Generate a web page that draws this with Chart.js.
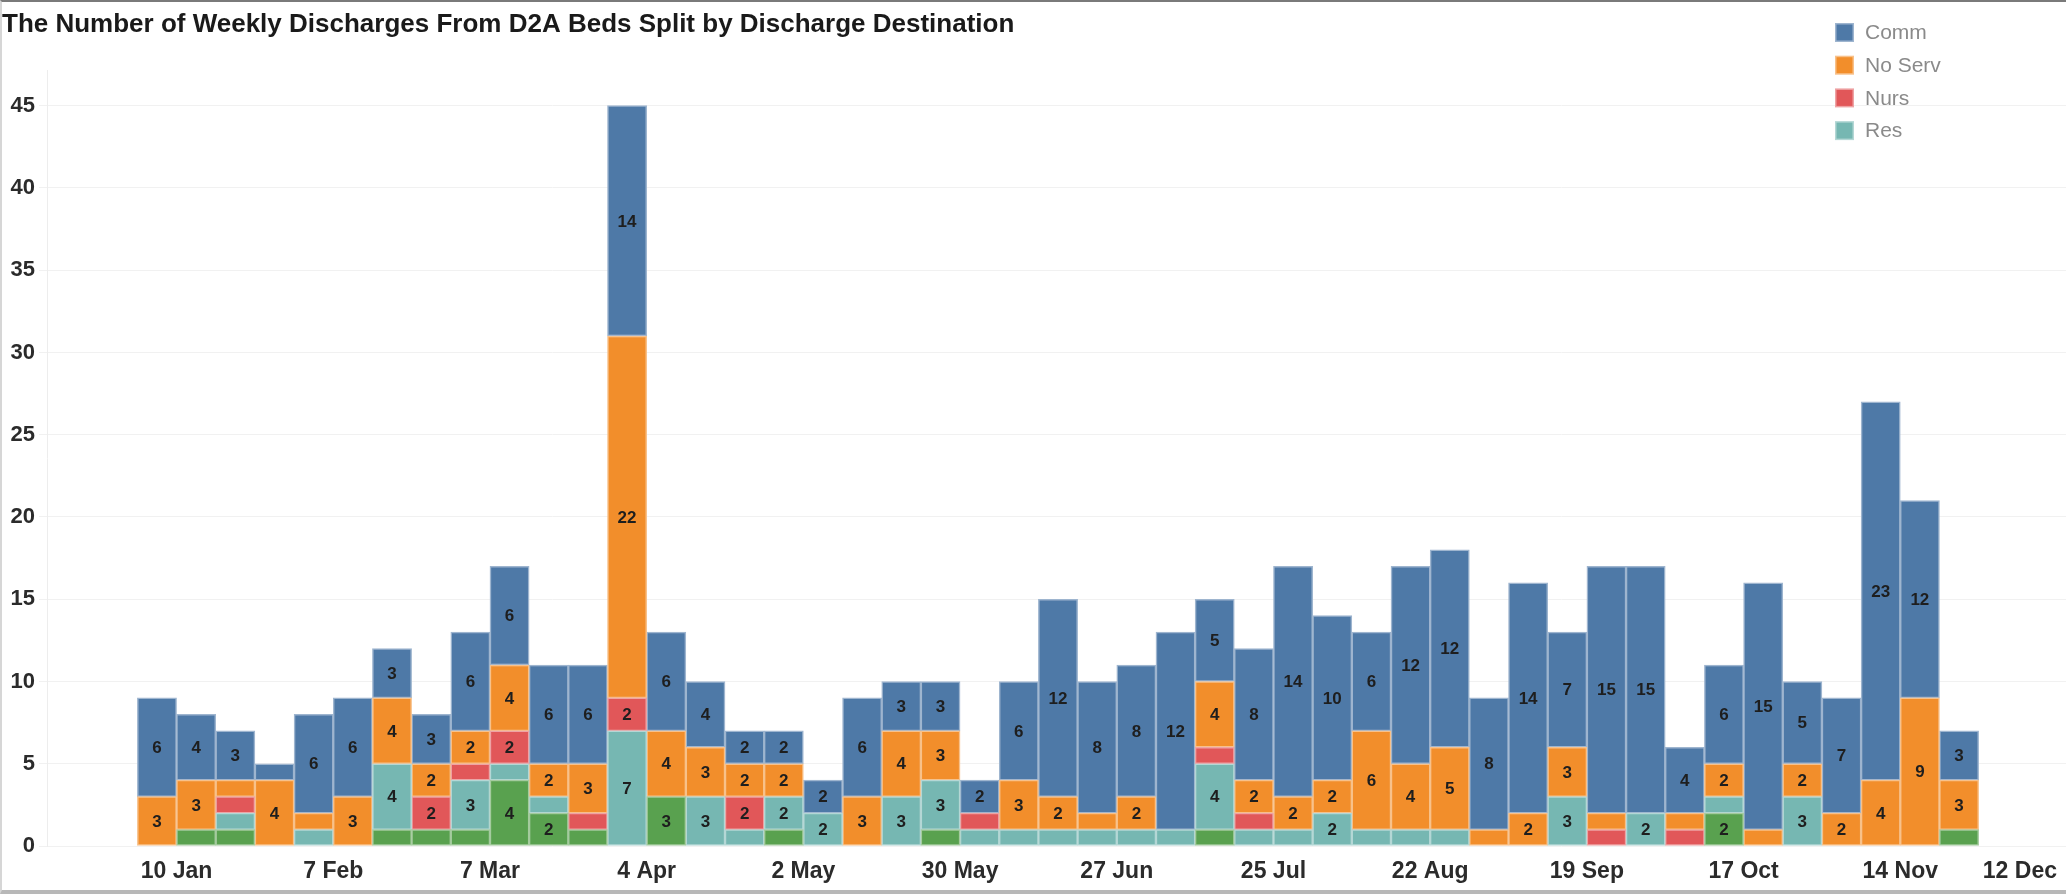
<!DOCTYPE html>
<html>
<head>
<meta charset="utf-8">
<script src="https://cdn.jsdelivr.net/npm/chart.js@4.4.1/dist/chart.umd.min.js"></script>
<style>
html,body{margin:0;padding:0;background:#fff;}
#wrap{position:relative;width:2066px;height:894px;box-sizing:border-box;border-top:2px solid #7a7a7a;border-left:2px solid #d6d6d6;border-bottom:4px solid #b8b8b8;overflow:hidden;background:#fff;}
canvas{display:block;}
</style>
</head>
<body>
<div id="wrap"><canvas id="c" width="2064" height="888"></canvas></div>
<script>
// Week-start categories (one bar per week)
const weeks = ['3 Jan','10 Jan','17 Jan','24 Jan','31 Jan','7 Feb','14 Feb','21 Feb','28 Feb','7 Mar','14 Mar','21 Mar','28 Mar','4 Apr','11 Apr','18 Apr','25 Apr','2 May','9 May','16 May','23 May','30 May','6 Jun','13 Jun','20 Jun','27 Jun','4 Jul','11 Jul','18 Jul','25 Jul','1 Aug','8 Aug','15 Aug','22 Aug','29 Aug','5 Sep','12 Sep','19 Sep','26 Sep','3 Oct','10 Oct','17 Oct','24 Oct','31 Oct','7 Nov','14 Nov','21 Nov'];

// Series values (bottom to top of each stack)
const other  = [0,1,1,0,0,0,1,1,1,4,2,1,0,3,0,0,1,0,0,0,1,0,0,0,0,0,0,1,0,0,0,0,0,0,0,0,0,0,0,0,2,0,0,0,0,0,1];
const res    = [0,0,1,0,1,0,4,0,3,1,1,0,7,0,3,1,2,2,0,3,3,1,1,1,1,1,1,4,1,1,2,1,1,1,0,0,3,0,2,0,1,0,3,0,0,0,0];
const nurs   = [0,0,1,0,0,0,0,2,1,2,0,1,2,0,0,2,0,0,0,0,0,1,0,0,0,0,0,1,1,0,0,0,0,0,0,0,0,1,0,1,0,0,0,0,0,0,0];
const noServ = [3,3,1,4,1,3,4,2,2,4,2,3,22,4,3,2,2,0,3,4,3,0,3,2,1,2,0,4,2,2,2,6,4,5,1,2,3,1,0,1,2,1,2,2,4,9,3];
const comm   = [6,4,3,1,6,6,3,3,6,6,6,6,14,6,4,2,2,2,6,3,3,2,6,12,8,8,12,5,8,14,10,6,12,12,8,14,7,15,15,4,6,15,5,7,23,12,3];

// X-axis tick labels and their week positions
const tickLabels = ['10 Jan','7 Feb','7 Mar','4 Apr','2 May','30 May','27 Jun','25 Jul','22 Aug','19 Sep','17 Oct','14 Nov','12 Dec'];
const tickWeeks  = [1,5,9,13,17,21,25,29,33,37,41,45,49];
const yTicks = [0,5,10,15,20,25,30,35,40,45];

const FONT = '"Liberation Sans", Arial, sans-serif';

function toPoints(arr){ return arr.map((v,i)=>({x: weeks.indexOf(weeks[i]) + 0.5, y: v === 0 ? null : v})); }

function ds(label, data, bg, border){
  return {label, data: toPoints(data), backgroundColor: bg, borderColor: border, borderWidth: 1.5, borderSkipped: false, stack: 's'};
}

const datasets = [
  ds('Other',   other,  '#59a14f', '#a4cb9e'),
  ds('Res',     res,    '#76b7b2', '#b4d7d5'),
  ds('Nurs',    nurs,   '#e15759', '#eea3a4'),
  ds('No Serv', noServ, '#f28e2b', '#f8c18a'),
  ds('Comm',    comm,   '#4e79a7', '#9eb5cf')
];
const legendOrder = ['Comm','No Serv','Nurs','Res'];

const segLabels = {
  id: 'segLabels',
  afterDatasetsDraw(chart){
    const ctx = chart.ctx;
    ctx.save();
    ctx.font = 'bold 17px ' + FONT;
    ctx.fillStyle = '#1e1e1e';
    ctx.textAlign = 'center';
    ctx.textBaseline = 'middle';
    chart.data.datasets.forEach((d, di) => {
      const meta = chart.getDatasetMeta(di);
      meta.data.forEach((el, i) => {
        const v = d.data[i].y;
        if (v !== null && v >= 2) {
          ctx.fillText(String(v), el.x, (el.y + el.base) / 2 + 1);
        }
      });
    });
    ctx.restore();
  }
};

const sideLegend = {
  id: 'sideLegend',
  afterDraw(chart){
    const ctx = chart.ctx;
    ctx.save();
    ctx.font = '21px ' + FONT;
    ctx.textAlign = 'left';
    ctx.textBaseline = 'middle';
    legendOrder.forEach((name, k) => {
      const d = chart.data.datasets.find(s => s.label === name);
      const x = 1833, y = 21 + k * 32.7, s = 19;
      ctx.fillStyle = d.borderColor;
      ctx.fillRect(x, y, s, s);
      ctx.fillStyle = d.backgroundColor;
      ctx.fillRect(x + 1.5, y + 1.5, s - 3, s - 3);
      ctx.fillStyle = '#8a8a8a';
      ctx.fillText(name, x + 30, y + s / 2 + 1);
    });
    ctx.restore();
  }
};

new Chart(document.getElementById('c'), {
  type: 'bar',
  data: { datasets },
  plugins: [segLabels, sideLegend],
  options: {
    responsive: false,
    animation: false,
    layout: { padding: 0 },
    datasets: { bar: { barPercentage: 1, categoryPercentage: 1 } },
    plugins: {
      legend: { display: false },
      tooltip: { enabled: false },
      title: {
        display: true,
        text: 'The Number of Weekly Discharges From D2A Beds Split by Discharge Destination',
        align: 'start',
        color: '#1a1a1a',
        font: { family: FONT, size: 26, weight: 'bold', lineHeight: 1.2 },
        padding: { top: 7, bottom: 29.8 }
      }
    },
    scales: {
      x: {
        type: 'linear',
        stacked: true,
        offset: false,
        min: -2.307,
        max: 49.23,
        grid: { display: false, drawTicks: false },
        border: { display: false },
        afterBuildTicks: s => { s.ticks = [{value: s.min}].concat(tickWeeks.map(v => ({value: v}))); },
        afterFit: s => { s.height = 44; s.paddingLeft = 0; s.paddingRight = 0; },
        ticks: {
          autoSkip: false, maxRotation: 0, minRotation: 0, align: 'inner', padding: 12,
          color: '#2b2b2b', font: { family: FONT, size: 23, weight: 'bold' },
          callback: (v, i) => i === 0 ? '' : tickLabels[i - 1]
        }
      },
      y: {
        stacked: true,
        min: 0,
        max: 47.17,
        afterBuildTicks: s => { s.ticks = yTicks.map(v => ({value: v})); },
        afterFit: s => { s.width = 45; s.paddingTop = 0; s.paddingBottom = 0; },
        grid: { color: '#f1f1f1', drawTicks: true, tickLength: 8, tickColor: '#f1f1f1' },
        border: { display: true, color: '#ededed' },
        ticks: { padding: 4, color: '#2b2b2b', font: { family: FONT, size: 22, weight: 'bold' } }
      }
    }
  }
});
</script>
</body>
</html>
